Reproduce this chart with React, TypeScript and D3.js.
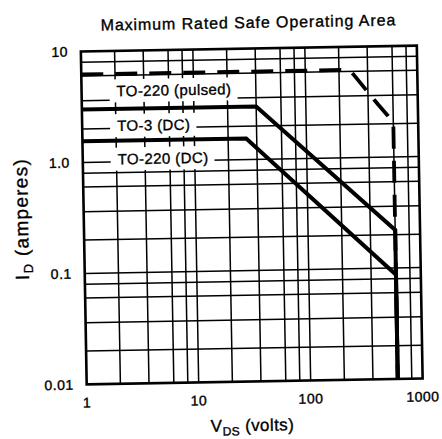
import React, { useEffect, useRef } from "react";
import * as d3 from "d3";

// ---- chart data ----
const chartTitle = "Maximum Rated Safe Operating Area";
const xTickValues = [1, 10, 100, 1000];
const xTickLabels = ["1", "10", "100", "1000"];
const yTickValues = [0.01, 0.1, 1, 10];
const yTickLabels = ["0.01", "0.1", "1.0", "10"];
const gridDecadesX = [1, 10, 100];
const gridDecadesY = [0.01, 0.1, 1];
const gridMantissas = [1, 2, 3.6, 6, 8];

// TO-220 (pulsed) SOA boundary
const pulsedV = [1, 230, 250, 270, 440, 540, 585, 600, 600];
const pulsedI = [6.2, 6.2, 6.05, 5.6, 3.0, 2.35, 2.1, 1.85, 0.01];
// TO-3 (DC)
const to3V = [1, 36, 600, 600];
const to3I = [3.0, 3.0, 0.22, 0.01];
// TO-220 (DC)
const to220V = [1, 29, 600, 600];
const to220I = [1.55, 1.55, 0.087, 0.01];

const seriesNames = ["TO-220 (pulsed)", "TO-3 (DC)", "TO-220 (DC)"];
const seriesLabelV = [2.05, 2.05, 2.05];
const seriesLabelI = [4.35, 2.12, 1.06];

const W = 442;
const H = 439;

export default function App() {
  const ref = useRef<SVGSVGElement>(null);

  useEffect(() => {
    const svg = d3.select(ref.current);
    svg.selectAll("*").remove();
    const font = "'Liberation Sans', Arial, Helvetica, sans-serif";
    const m = { left: 83.75, right: 419.75, top: 48.5, bottom: 381.5 };
    const cx = (m.left + m.right) / 2;
    const cy = (m.top + m.bottom) / 2;

    const x = d3.scaleLog().domain([1, 1000]).range([m.left, m.right]);
    const y = d3.scaleLog().domain([0.01, 10]).range([m.bottom, m.top]);

    svg.append("rect").attr("width", W).attr("height", H).attr("fill", "#fff");

    const g = svg.append("g").attr("transform", `rotate(-1 ${cx} ${cy})`);

    // grid
    const xGrid: number[] = [];
    gridDecadesX.forEach((d) => gridMantissas.forEach((k) => xGrid.push(d * k)));
    const yGrid: number[] = [];
    gridDecadesY.forEach((d) => gridMantissas.forEach((k) => yGrid.push(d * k)));

    const grid = g.append("g").attr("stroke", "#000").attr("stroke-width", 1.5);
    grid
      .selectAll("line.v")
      .data(xGrid.filter((v) => v > 1 && v < 1000))
      .join("line")
      .attr("x1", (d) => x(d))
      .attr("x2", (d) => x(d))
      .attr("y1", m.top)
      .attr("y2", m.bottom);
    grid
      .selectAll("line.h")
      .data(yGrid.filter((v) => v > 0.01 && v < 10))
      .join("line")
      .attr("y1", (d) => y(d))
      .attr("y2", (d) => y(d))
      .attr("x1", m.left)
      .attr("x2", m.right);

    const heavy = (sel: any) =>
      sel.attr("stroke", "#000").attr("stroke-width", 0.35).attr("fill", "#000");

    // series labels with white boxes
    const labelsG = g.append("g");
    seriesNames.forEach((name, i) => {
      const t = labelsG
        .append("text")
        .attr("x", x(seriesLabelV[i]))
        .attr("y", y(seriesLabelI[i]))
        .attr("dy", "0.36em")
        .attr("font-family", font)
        .attr("font-size", 15)
        .attr("letter-spacing", 0.4)
        .text(name);
      heavy(t);
      const bb = (t.node() as SVGTextElement).getBBox();
      labelsG
        .insert("rect", () => t.node() as any)
        .attr("x", bb.x - 7)
        .attr("y", y(seriesLabelI[i]) - 11.5)
        .attr("width", bb.width + 13)
        .attr("height", 23)
        .attr("fill", "#fff");
    });

    // curves
    const line = d3
      .line<[number, number]>()
      .x((d) => x(d[0]))
      .y((d) => y(d[1]));
    const pts = (vs: number[], is: number[]) => vs.map((v, i) => [v, is[i]] as [number, number]);

    g.append("path")
      .attr("d", line(pts(to3V, to3I)))
      .attr("fill", "none")
      .attr("stroke", "#000")
      .attr("stroke-width", 4);
    g.append("path")
      .attr("d", line(pts(to220V, to220I)))
      .attr("fill", "none")
      .attr("stroke", "#000")
      .attr("stroke-width", 4);
    g.append("path")
      .attr("d", line(pts(pulsedV, pulsedI)))
      .attr("fill", "none")
      .attr("stroke", "#000")
      .attr("stroke-width", 3.8)
      .attr("stroke-dasharray", "22 12")
      .attr("stroke-linejoin", "round");

    // border
    g.append("rect")
      .attr("x", m.left)
      .attr("y", m.top)
      .attr("width", m.right - m.left)
      .attr("height", m.bottom - m.top)
      .attr("fill", "none")
      .attr("stroke", "#000")
      .attr("stroke-width", 2.6);

    // tick labels
    heavy(
      g
        .selectAll("text.yt")
        .data(yTickValues)
        .join("text")
        .attr("x", m.left - 13)
        .attr("y", (d) => y(d))
        .attr("dy", "0.36em")
        .attr("text-anchor", "end")
        .attr("font-family", font)
        .attr("font-size", 14)
        .attr("letter-spacing", 0.5)
        .text((d, i) => yTickLabels[i])
    );

    heavy(
      g
        .selectAll("text.xt")
        .data(xTickValues)
        .join("text")
        .attr("x", (d) => x(d))
        .attr("y", m.bottom + 23)
        .attr("text-anchor", "middle")
        .attr("font-family", font)
        .attr("font-size", 14)
        .attr("letter-spacing", 0.5)
        .text((d, i) => xTickLabels[i])
    );

    // title
    heavy(
      g
        .append("text")
        .attr("x", cx)
        .attr("y", 28)
        .attr("text-anchor", "middle")
        .attr("font-family", font)
        .attr("font-size", 16)
        .attr("letter-spacing", 0.9)
        .text(chartTitle)
    );

    // x axis title
    const xt = g
      .append("text")
      .attr("x", cx - 3)
      .attr("y", 431)
      .attr("text-anchor", "middle")
      .attr("font-family", font)
      .attr("font-size", 17)
      .attr("letter-spacing", 0.4);
    heavy(xt);
    xt.append("tspan").text("V");
    xt.append("tspan").attr("font-size", 12).attr("dy", 4).text("DS");
    xt.append("tspan").attr("dy", -4).text(" (volts)");

    // y axis title
    const yt = g
      .append("text")
      .attr("transform", `translate(28 ${cy}) rotate(-90)`)
      .attr("text-anchor", "middle")
      .attr("font-family", font)
      .attr("font-size", 19)
      .attr("letter-spacing", 1.3);
    heavy(yt);
    yt.append("tspan").text("I");
    yt.append("tspan").attr("font-size", 13).attr("dy", 4).text("D");
    yt.append("tspan").attr("dy", -4).text(" (amperes)");
  }, []);

  return (
    <svg
      ref={ref}
      width={W}
      height={H}
      style={{ position: "absolute", left: 0, top: 0 }}
    />
  );
}
